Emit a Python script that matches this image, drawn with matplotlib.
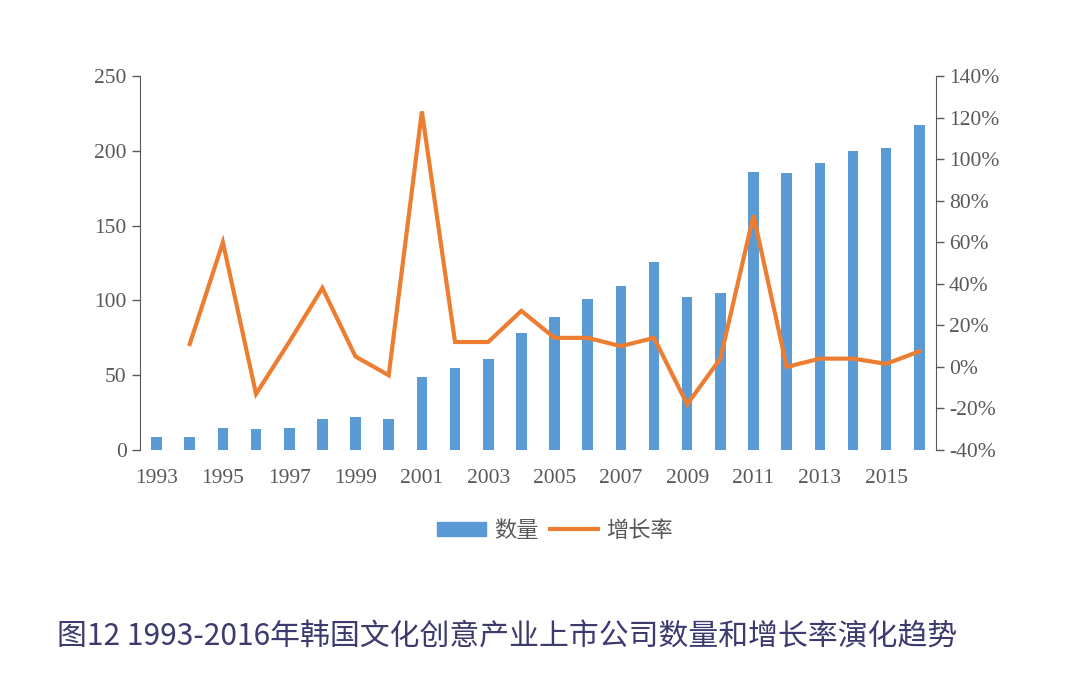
import matplotlib.pyplot as plt
import numpy as np
from matplotlib.patches import Patch
from matplotlib.lines import Line2D
from matplotlib.ticker import FuncFormatter

plt.rcParams['font.family'] = ['Liberation Serif', 'Noto Sans CJK SC']

# data
years = list(range(1993, 2017))
counts = [9, 9, 15, 14, 15, 21, 22, 21, 49, 55, 61, 78, 89, 101, 110, 126,
          102, 105, 186, 185, 192, 200, 202, 217]
growth_years = list(range(1994, 2017))
growth = [11, 60, -13, 12, 38, 5, -4, 123, 12, 12, 27, 14, 14, 10, 14,
          -18, 4, 73, 0, 4, 4, 1.5, 7.5]
xtick_years = list(range(1993, 2017, 2))
caption = "图12 1993-2016年韩国文化创意产业上市公司数量和增长率演化趋势"

blue = "#5b9bd5"
orange = "#ed7d31"
grey = "#595959"

fig = plt.figure(figsize=(10.8, 6.86), dpi=100)
ax = fig.add_axes([0.1296, 0.344, 0.737, 0.545])
ax2 = ax.twinx()

ax.bar(years, counts, width=0.32, color=blue, zorder=2)
ax2.plot(growth_years, growth, color=orange, lw=3.0, solid_joinstyle='miter', zorder=3)

ax.set_xlim(1992.5, 2016.5)
ax.set_ylim(0, 250)
ax.set_yticks(range(0, 251, 50))
ax2.set_ylim(-40, 140)
ax2.set_yticks(range(-40, 141, 20))
ax2.yaxis.set_major_formatter(FuncFormatter(lambda v, p: f"{v:.0f}%"))
ax.set_xticks(xtick_years)

for a in (ax, ax2):
    for s in ('top', 'bottom'):
        a.spines[s].set_visible(False)
    a.tick_params(labelsize=15.5, colors=grey, length=6, width=1)
ax.spines['left'].set_color(grey)
ax.spines['right'].set_visible(False)
ax2.spines['left'].set_visible(False)
ax2.spines['right'].set_color(grey)
ax.tick_params(axis='x', length=0, pad=14)

handles = [Patch(color=blue), Line2D([], [], color=orange, lw=3.0)]
fig.legend(handles, ["数量", "增长率"], loc='center', bbox_to_anchor=(0.514, 0.227),
           ncol=2, frameon=False, handlelength=2.2, handleheight=0.6,
           columnspacing=0.5, handletextpad=0.35,
           prop={'family': ['Noto Sans CJK SC'], 'size': 16}, labelcolor=grey)

fig.text(0.053, 0.071, caption, fontsize=21.5, color="#3d3a6e",
         family=['Noto Sans CJK SC'], va='center', ha='left')

fig.savefig("out.png", dpi=100, facecolor='white')
